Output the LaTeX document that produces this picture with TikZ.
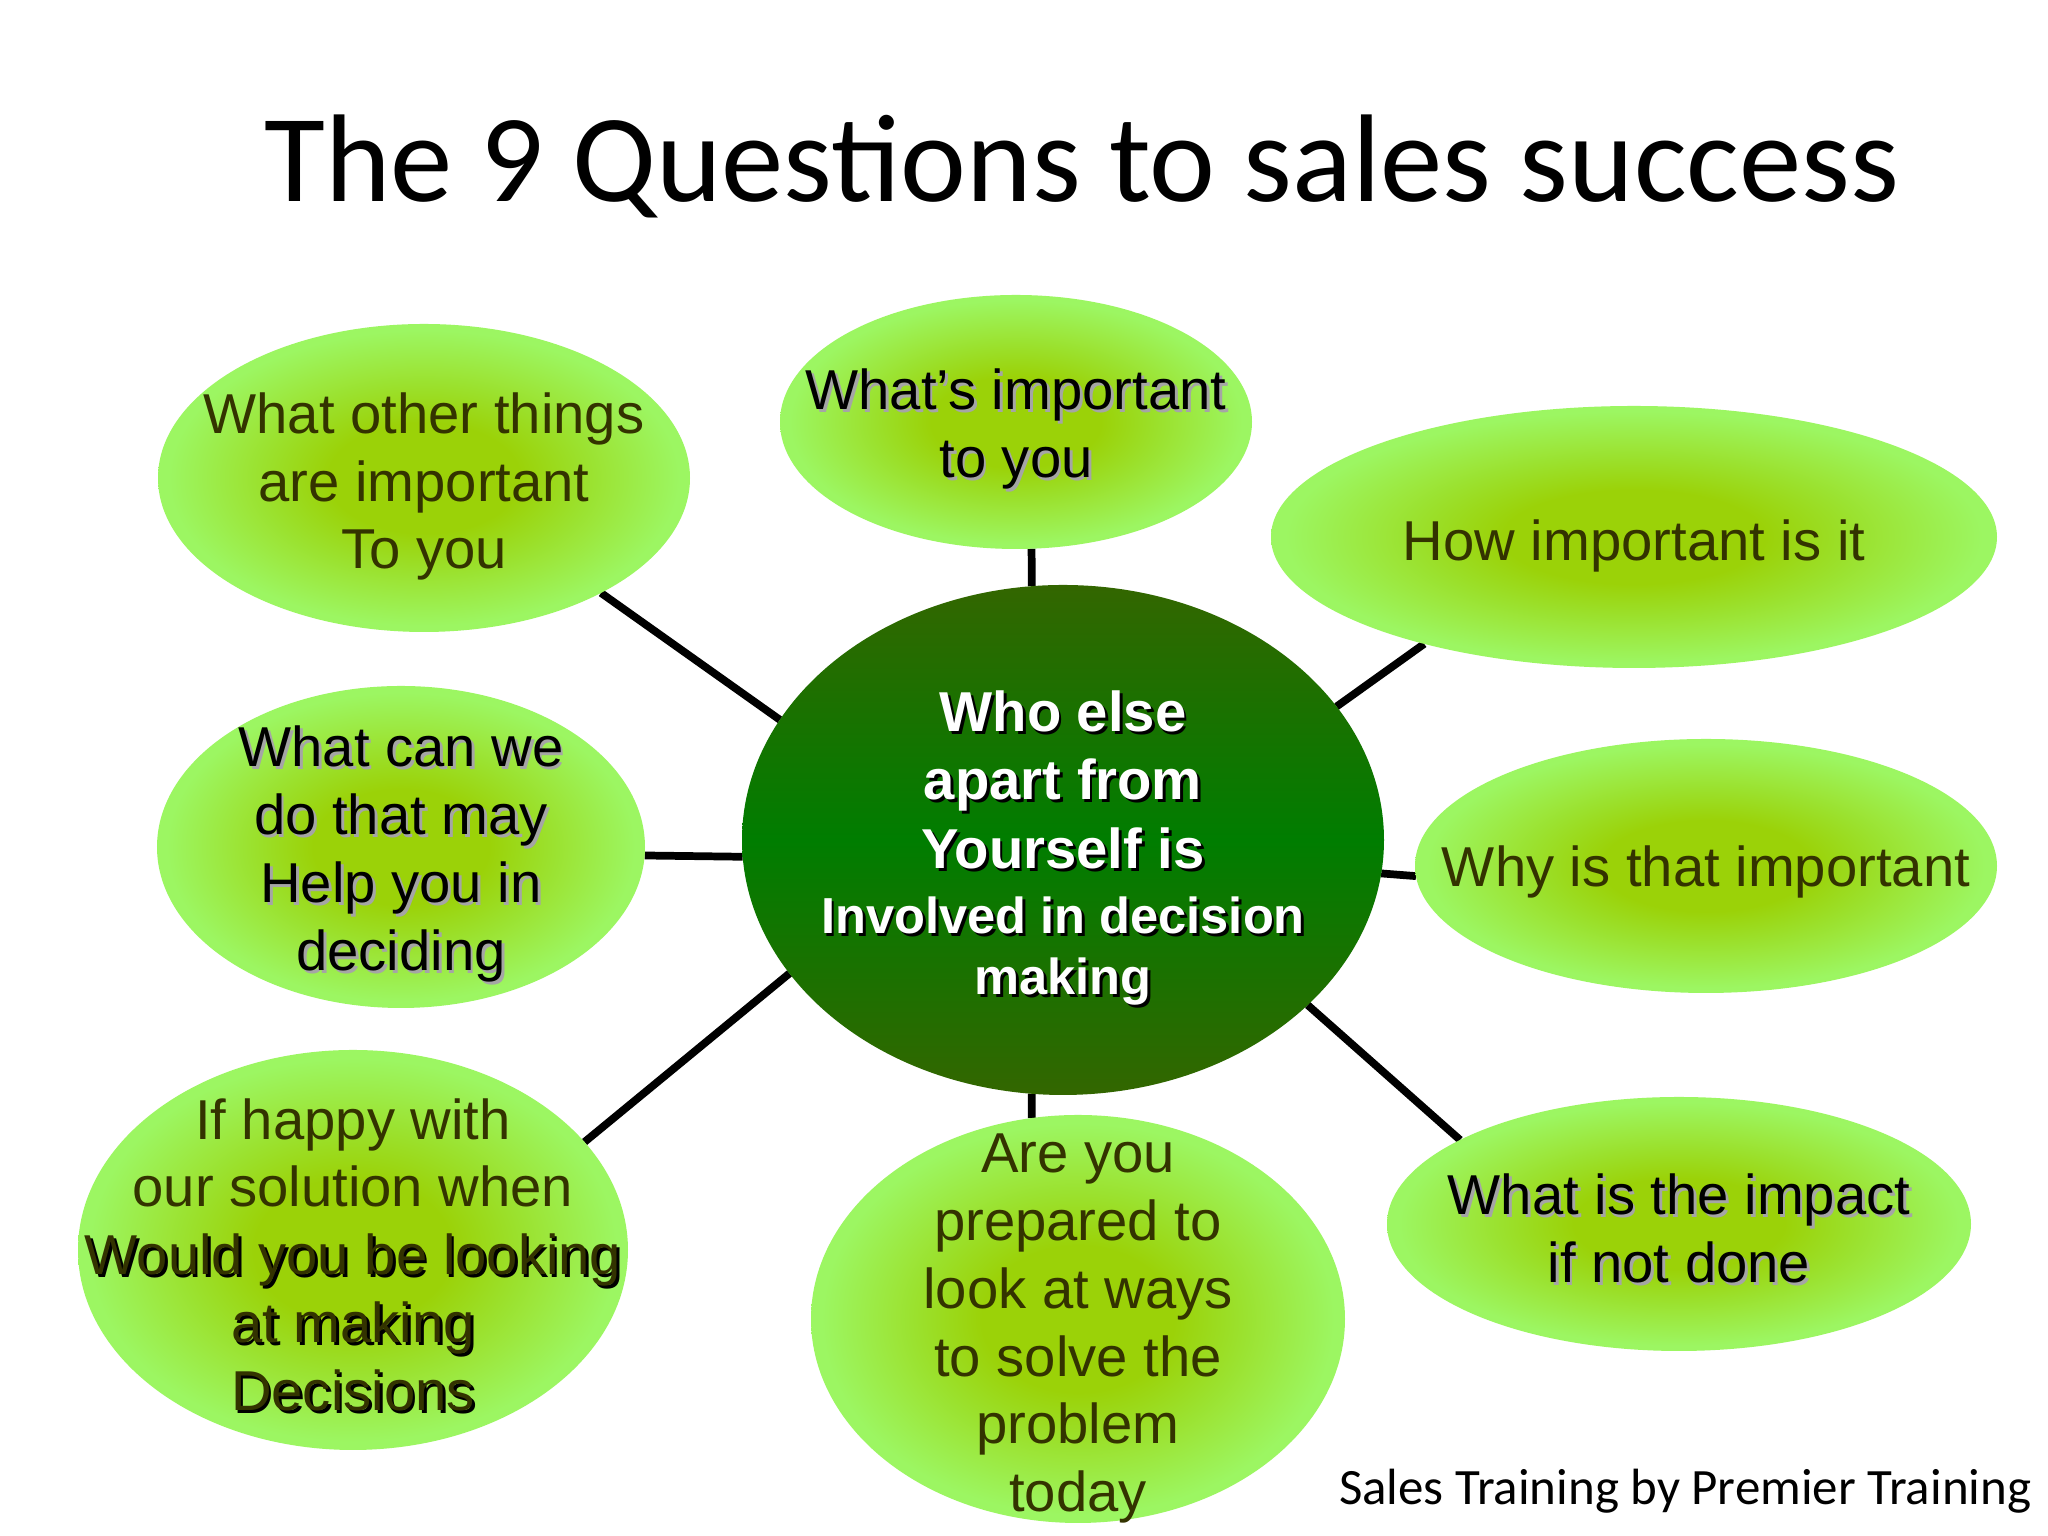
\documentclass[tikz,border=0pt]{standalone}
\usepackage{fontspec}
\setmainfont{Liberation Sans}
\newfontfamily\titlefont{Carlito}
\usetikzlibrary{shapes.geometric,backgrounds}

\definecolor{hubdark}{RGB}{51,102,0}
\definecolor{hubgreen}{RGB}{0,125,0}
\definecolor{bubblerim}{RGB}{156,246,98}
\definecolor{bubblecore}{RGB}{155,210,8}
\definecolor{olivetext}{RGB}{51,51,0}
\definecolor{softshadow}{RGB}{165,165,165}

\pgfdeclareradialshading{bubbleglow}{\pgfpoint{0bp}{0bp}}{color(0bp)=(bubblecore); color(9bp)=(bubblecore); color(24bp)=(bubblerim); color(50bp)=(bubblerim)}

% testo con ombra
\newcommand{\shad}[2][softshadow]{\rlap{\kern0.8pt\raisebox{-0.8pt}{\textcolor{#1}{#2}}}#2}
\newcommand{\qstrut}{\rule{0pt}{16.5pt}}
\newcommand{\hubbig}{\fontsize{16}{19.5}\selectfont}
\newcommand{\hubsmall}{\fontsize{14.4}{17}\selectfont}

\begin{document}
\begin{tikzpicture}[
		bubble/.style={ellipse, shade, shading=bubbleglow, inner sep=-1.5cm, outer sep=0pt, align=center, text=olivetext, font=\fontsize{16}{19.3}\selectfont},
		spoke/.style={line width=2.2pt, color=black}]
		\useasboundingbox (0,0) rectangle (20.48,15.36);
		
		% titolo
		\node[font=\titlefont\fontsize{35.5}{40}\selectfont, anchor=base, inner sep=0pt] (title) at (10.82,13.34) {The 9 Questions to sales success};
		
		% nodo centrale
		\node[ellipse, shade, top color=hubdark, bottom color=hubdark, middle color=hubgreen, minimum width=6.42cm, minimum height=5.10cm, inner sep=-1.5cm, outer sep=0pt, align=center, text=white, font=\bfseries\hubbig] (hub) at (10.63,6.96)
			{\hubbig\rule{0pt}{17pt}\shad[black]{Who else}\\ \hubbig\shad[black]{apart from}\\ \hubbig\shad[black]{Yourself is}\\[-1pt] \hubsmall\shad[black]{Involved in decision}\\[-2pt] \hubsmall\shad[black]{making}};
		
		% domande
		\node[bubble, minimum width=4.72cm, minimum height=2.54cm, text=black] (important) at (10.16,11.14) {\qstrut\shad{What’s important}\\ \shad{to you}};
		\node[bubble, minimum width=5.32cm, minimum height=3.08cm] (whatother) at (4.24,10.58) {\qstrut What other things\\ are important\\ To you};
		\node[bubble, minimum width=7.26cm, minimum height=2.62cm] (howimp) at (16.34,9.99) {\qstrut How important is it};
		\node[bubble, minimum width=4.88cm, minimum height=3.22cm, text=black] (help) at (4.01,6.89) {\qstrut\shad{What can we}\\ \shad{do that may}\\ \shad{Help you in}\\ \shad{deciding}};
		\node[bubble, minimum width=5.82cm, minimum height=2.54cm] (why) at (17.06,6.70) {\rule{0pt}{15pt}Why is that important};
		\node[bubble, minimum width=5.50cm, minimum height=4.00cm] (happy) at (3.53,2.86) {\rule{0pt}{15pt}If happy with\\ our solution when\\ \shad[black]{Would you be looking}\\ \shad[black]{at making}\\ \shad[black]{Decisions}};
		\node[bubble, minimum width=5.34cm, minimum height=4.08cm] (prepared) at (10.78,2.17) {\qstrut Are you\\ prepared to\\ look at ways\\ to solve the\\ problem\\ today};
		\node[bubble, minimum width=5.84cm, minimum height=2.54cm, text=black] (impact) at (16.79,3.12) {\rule{0pt}{15pt}\shad{What is the impact}\\ \shad{if not done}};
		
		% firma
		\node[font=\titlefont\fontsize{14.5}{17}\selectfont, anchor=base east, inner sep=0pt] (footer) at (20.32,0.31) {Sales Training by Premier Training};
		
		% collegamenti
		\begin{scope}[on background layer]
			\fill[white] (0,0) rectangle (20.48,15.36);
			\draw[spoke] (hub.97) -- (important.-83);
			\draw[spoke] (hub.157) -- (whatother.-33);
			\draw[spoke] (hub.26) -- (howimp.-153);
			\draw[spoke] (hub.183) -- (help.-2);
			\draw[spoke] (hub.-6) -- (why.182);
			\draw[spoke] (hub.206) -- (happy.25);
			\draw[spoke] (hub.-97) -- (prepared.103);
			\draw[spoke] (hub.-34) -- (impact.159);
		\end{scope}
		
	\end{tikzpicture}
\end{document}
